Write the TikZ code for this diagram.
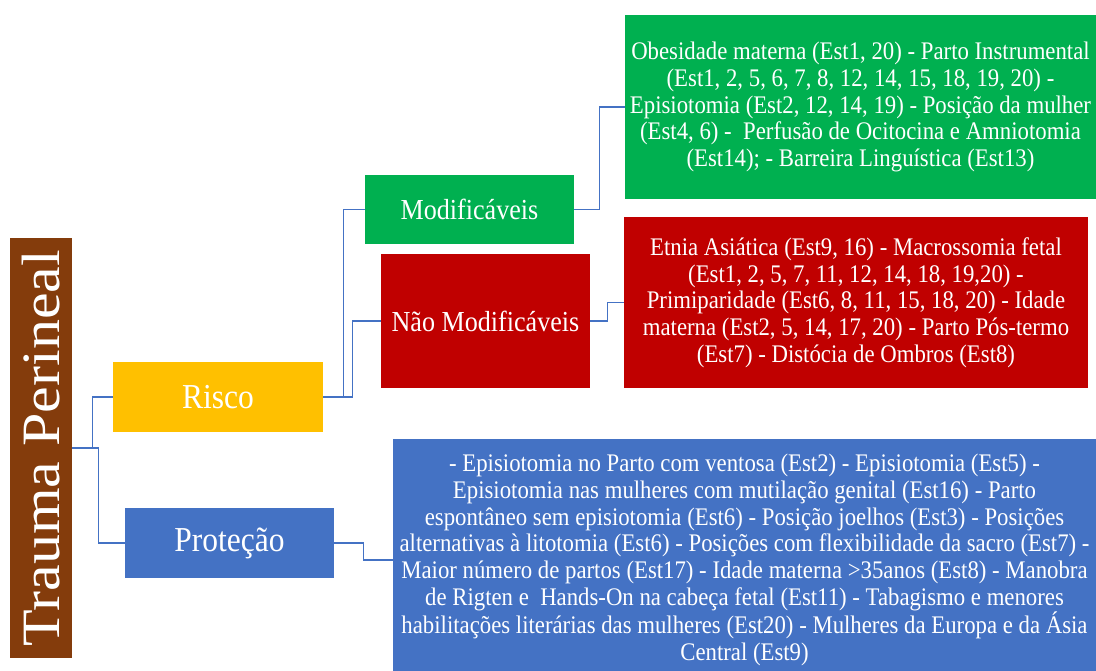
\documentclass[tikz,border=0pt]{standalone}
\usepackage{fontspec}
\setmainfont{Liberation Serif}[FakeStretch=0.9]
\newfontfamily\plainserif{Liberation Serif}
\usepackage{graphicx}
\definecolor{brownbox}{HTML}{843C0C}
\definecolor{goldbox}{HTML}{FFC000}
\definecolor{greenbox}{HTML}{00B050}
\definecolor{redbox}{HTML}{C00000}
\definecolor{bluebox}{HTML}{4472C4}
\definecolor{linkblue}{HTML}{4472C4}

\begin{document}
\begin{tikzpicture}[x=1pt,y=-1pt,
  box/.style={inner sep=0pt, text=white, align=center},
  link/.style={draw=linkblue, line width=1.2pt},
  listfont/.style={font=\fontsize{25.3}{26.7}\selectfont}]
\useasboundingbox (0,0) rectangle (1096,671);
% level 0
\node[box, fill=brownbox, minimum width=62, minimum height=420] (trauma) at (41,448)
  {\rotatebox{90}{\scalebox{1}[0.9]{\plainserif\fontsize{60}{60}\selectfont Trauma Perineal}}};
% level 1
\node[box, fill=goldbox, minimum width=210, minimum height=70, font=\fontsize{35}{35}\selectfont] (risco) at (218,397) {Risco};
\node[box, fill=bluebox, minimum width=209, minimum height=70, font=\fontsize{35}{35}\selectfont] (protecao) at (229.5,543) {Proteção};
% level 2
\node[box, fill=greenbox, minimum width=209, minimum height=69, font=\fontsize{29}{29}\selectfont] (modif) at (469.5,209.5) {Modificáveis};
\node[box, fill=redbox, minimum width=209, minimum height=134, font=\fontsize{29}{29}\selectfont] (naomodif) at (485.5,321) {Não Modificáveis};
% lists
\node[box, listfont, fill=greenbox, minimum width=471, minimum height=184] (modlist) at (860.5,107)
  {Obesidade materna (Est1, 20) - Parto Instrumental\\
   (Est1, 2, 5, 6, 7, 8, 12, 14, 15, 18, 19, 20) -\\
   Episiotomia (Est2, 12, 14, 19) - Posição da mulher\\
   (Est4, 6) -\ \ Perfusão de Ocitocina e Amniotomia\\
   (Est14); - Barreira Linguística (Est13)};
\node[box, listfont, fill=redbox, minimum width=464, minimum height=171] (naolist) at (856,302.5)
  {Etnia Asiática (Est9, 16) - Macrossomia fetal\\
   (Est1, 2, 5, 7, 11, 12, 14, 18, 19,20) -\\
   Primiparidade (Est6, 8, 11, 15, 18, 20) - Idade\\
   materna (Est2, 5, 14, 17, 20) - Parto Pós-termo\\
   (Est7) - Distócia de Ombros (Est8)};
\node[box, listfont, fill=bluebox, minimum width=703, minimum height=242] (protlist) at (744.5,560)
  {- Episiotomia no Parto com ventosa (Est2) - Episiotomia (Est5) -\\
   Episiotomia nas mulheres com mutilação genital (Est16) - Parto\\
   espontâneo sem episiotomia (Est6) - Posição joelhos (Est3) - Posições\\
   alternativas à litotomia (Est6) - Posições com flexibilidade da sacro (Est7) -\\
   Maior número de partos (Est17) - Idade materna >35anos (Est8) - Manobra\\
   de Rigten e\ \ Hands-On na cabeça fetal (Est11) - Tabagismo e menores\\
   habilitações literárias das mulheres (Est20) - Mulheres da Europa e da Ásia\\
   Central (Est9)};
% connectors
\foreach \a/\b/\d in {trauma/risco/20, trauma/protecao/26, risco/modif/20, risco/naomodif/29,
                      modif/modlist/25, naomodif/naolist/17, protecao/protlist/29}{
  \draw[link] (\a.east) -- ++(\d,0) |- (\b.west);
}
\end{tikzpicture}
\end{document}
